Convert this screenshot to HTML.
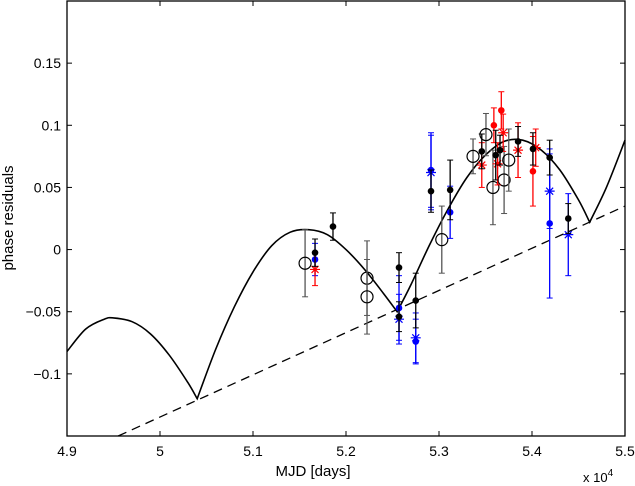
<!DOCTYPE html>
<html><head><meta charset="utf-8"><style>
body{margin:0;background:#fff}
svg{display:block;font-family:"Liberation Sans",sans-serif}
</style></head><body>
<svg id="chart" width="635" height="486">
<rect x="0" y="0" width="635" height="486" fill="#fff"/>
<g id="plot"></g>
<g id="axes"></g>
<text x="313" y="476" font-size="15" text-anchor="middle">MJD [days]</text>
<text transform="translate(13,218) rotate(-90)" font-size="15" text-anchor="middle">phase residuals</text>
<text x="583" y="482" font-size="13">x 10<tspan dy="-6" font-size="10">4</tspan></text>
</svg>
<script>
const xTicks=[4.9,5.0,5.1,5.2,5.3,5.4,5.5];
const xTickLabels=["4.9","5","5.1","5.2","5.3","5.4","5.5"];
const yTicks=[-0.1,-0.05,0,0.05,0.1,0.15];
const yTickLabels=["\u22120.1","\u22120.05","0","0.05","0.1","0.15"];
const modelX=[4.9,4.92,4.94,4.95,4.97,4.99,5.01,5.03,5.04,5.06,5.08,5.10,5.12,5.14,5.16,5.18,5.20,5.22,5.24,5.255,5.27,5.29,5.31,5.33,5.35,5.37,5.39,5.41,5.43,5.45,5.462,5.48,5.5];
const modelY=[-0.082,-0.064,-0.056,-0.055,-0.058,-0.068,-0.085,-0.107,-0.12,-0.08,-0.046,-0.018,0.003,0.014,0.016,0.012,0.0,-0.016,-0.035,-0.05,-0.028,0.004,0.033,0.058,0.076,0.087,0.088,0.08,0.064,0.04,0.022,0.05,0.088];
const cuspIdx=[8,19,30];
const trendX=[4.955,5.5];
const trendY=[-0.15,0.035];
const openX=[5.156,5.2226,5.2226,5.303,5.3366,5.3505,5.358,5.37,5.375];
const openY=[-0.011,-0.023,-0.038,0.008,0.075,0.0925,0.05,0.056,0.072];
const openErr=[0.027,0.03,0.03,0.027,0.014,0.017,0.03,0.027,0.025];
const blackX=[5.1667,5.186,5.257,5.257,5.275,5.2914,5.312,5.346,5.361,5.3656,5.385,5.401,5.419,5.439];
const blackY=[-0.0025,0.0185,-0.0145,-0.054,-0.041,0.047,0.048,0.079,0.076,0.08,0.087,0.081,0.074,0.025];
const blackErr=[0.011,0.011,0.012,0.012,0.022,0.017,0.024,0.014,0.02,0.012,0.012,0.013,0.014,0.012];
const blueDotX=[5.1667,5.257,5.275,5.2914,5.312,5.419];
const blueDotY=[-0.008,-0.047,-0.074,0.064,0.03,0.021];
const blueDotErr=[0.013,0.026,0.018,0.03,0.021,0.06];
const blueStarX=[5.257,5.275,5.2914,5.419,5.439];
const blueStarY=[-0.056,-0.071,0.062,0.047,0.012];
const blueStarErr=[0.02,0.02,0.03,0.03,0.033];
const redDotX=[5.359,5.367,5.401];
const redDotY=[0.1,0.112,0.063];
const redDotErr=[0.014,0.015,0.028];
const redStarX=[5.1667,5.346,5.363,5.369,5.385,5.404];
const redStarY=[-0.016,0.068,0.069,0.094,0.08,0.082];
const redStarErr=[0.013,0.018,0.017,0.015,0.022,0.015];

const L=67,R=625,T=1,B=436,ymin=-0.15,ymax=0.2;
const sx=v=>L+(v-4.9)/0.6*(R-L);
const sy=v=>B-(v-ymin)/(ymax-ymin)*(B-T);
const NS="http://www.w3.org/2000/svg";
const plot=document.getElementById('plot'),axes=document.getElementById('axes');
function mk(tag,attrs,parent){const e=document.createElementNS(NS,tag);for(const k in attrs)e.setAttribute(k,attrs[k]);parent.appendChild(e);return e;}

// smooth within each arc (Catmull-Rom), sharp at cusps
const P=modelX.map((x,i)=>[sx(x),sy(modelY[i])]);
const bounds=[0,...cuspIdx,P.length-1];
let d='M'+P[0][0].toFixed(1)+' '+P[0][1].toFixed(1);
for(let s=0;s<bounds.length-1;s++){
  const a=bounds[s],b=bounds[s+1];
  for(let i=a;i<b;i++){
    const p0=P[Math.max(i-1,a)],p1=P[i],p2=P[i+1],p3=P[Math.min(i+2,b)];
    const c1=[p1[0]+(p2[0]-p0[0])/6,p1[1]+(p2[1]-p0[1])/6];
    const c2=[p2[0]-(p3[0]-p1[0])/6,p2[1]-(p3[1]-p1[1])/6];
    d+=` C${c1[0].toFixed(1)} ${c1[1].toFixed(1)} ${c2[0].toFixed(1)} ${c2[1].toFixed(1)} ${p2[0].toFixed(1)} ${p2[1].toFixed(1)}`;
  }
}
const model=mk('path',{d:d,fill:'none',stroke:'#000','stroke-width':1.6},plot);


const trend=mk('line',{x1:sx(trendX[0]),y1:sy(trendY[0]),x2:sx(trendX[1]),y2:sy(trendY[1]),stroke:'#000','stroke-width':1.3,'stroke-dasharray':'9,6'},plot);



function err(x,y,e,col,g){
  const X=sx(x),y1=sy(y+e),y2=sy(y-e);
  mk('line',{x1:X,y1:y1,x2:X,y2:y2,stroke:col,'stroke-width':1.3},g);
  mk('line',{x1:X-3,y1:y1,x2:X+3,y2:y1,stroke:col,'stroke-width':1},g);
  mk('line',{x1:X-3,y1:y2,x2:X+3,y2:y2,stroke:col,'stroke-width':1},g);
}
function star(X,Y,col,g){
  const r=5;
  mk('path',{d:`M${X-r} ${Y}H${X+r}M${X} ${Y-r}V${Y+r}M${X-3.5} ${Y-3.5}L${X+3.5} ${Y+3.5}M${X-3.5} ${Y+3.5}L${X+3.5} ${Y-3.5}`,stroke:col,'stroke-width':1.2,fill:'none'},g);
}
function series(xs,ys,es,col,ecol,kind,name){
  xs.forEach((x,i)=>{
    const g=mk('g',{},plot);
    
    
    err(x,ys[i],es[i],ecol,g);
    const X=sx(x),Y=sy(ys[i]);
    if(kind==='open')mk('circle',{cx:X,cy:Y,r:6,fill:'none',stroke:'#000','stroke-width':1.2},g);
    else if(kind==='dot')mk('circle',{cx:X,cy:Y,r:3.3,fill:col},g);
    else star(X,Y,col,g);
  });
}
series(openX,openY,openErr,'#000','#555','open','open-circle');
series(blueDotX,blueDotY,blueDotErr,'#0000ff','#0000ff','dot','blue-dot');
series(blueStarX,blueStarY,blueStarErr,'#0000ff','#0000ff','star','blue-star');
series(redDotX,redDotY,redDotErr,'#ff0000','#ff0000','dot','red-dot');
series(redStarX,redStarY,redStarErr,'#ff0000','#ff0000','star','red-star');
series(blackX,blackY,blackErr,'#000','#000','dot','black-dot');

const frame=mk('rect',{x:L,y:T,width:R-L,height:B-T,fill:'none',stroke:'#000','stroke-width':1.3},axes);


xTicks.forEach((v,i)=>{
  const X=sx(v);
  mk('line',{x1:X,y1:B,x2:X,y2:B-5,stroke:'#000'},axes);
  mk('line',{x1:X,y1:T,x2:X,y2:T+5,stroke:'#000'},axes);
  const t=mk('text',{x:X,y:B+20,'font-size':14,'text-anchor':'middle'},axes);
  t.textContent=xTickLabels[i];
  
  
});
yTicks.forEach((v,i)=>{
  const Y=sy(v);
  mk('line',{x1:L,y1:Y,x2:L+5,y2:Y,stroke:'#000'},axes);
  mk('line',{x1:R,y1:Y,x2:R-5,y2:Y,stroke:'#000'},axes);
  const t=mk('text',{x:L-6,y:Y+5,'font-size':14,'text-anchor':'end'},axes);
  t.textContent=yTickLabels[i];
  
  
});
</script>
</body></html>
